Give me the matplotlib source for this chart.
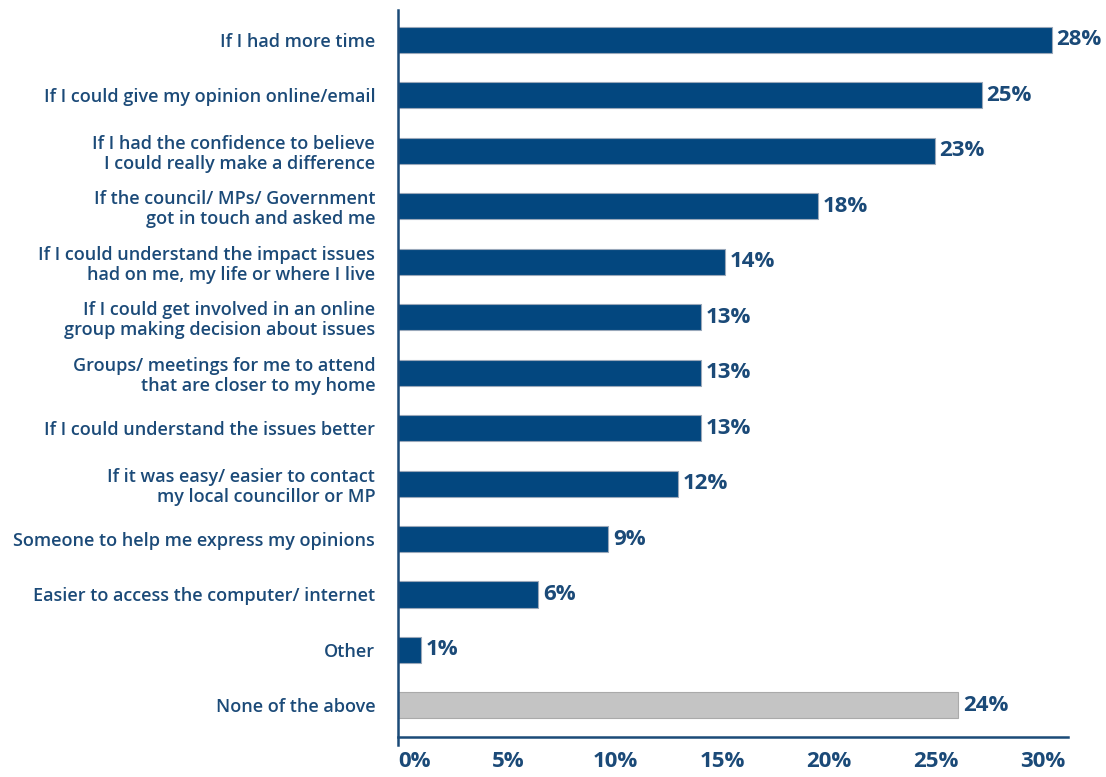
import numpy as np
import matplotlib.pyplot as plt

plt.rcParams['font.family'] = ['Open Sans', 'DejaVu Sans']

# survey answers, top to bottom
answers = [
    "If I had more time",
    "If I could give my opinion online/email",
    "If I had the confidence to believe\nI could really make a difference",
    "If the council/ MPs/ Government\ngot in touch and asked me",
    "If I could understand the impact issues\nhad on me, my life or where I live",
    "If I could get involved in an online\ngroup making decision about issues",
    "Groups/ meetings for me to attend\nthat are closer to my home",
    "If I could understand the issues better",
    "If it was easy/ easier to contact\nmy local councillor or MP",
    "Someone to help me express my opinions",
    "Easier to access the computer/ internet",
    "Other",
    "None of the above",
]
shares = [28, 25, 23, 18, 14, 13, 13, 13, 12, 9, 6, 1, 24]
tick_vals = [0, 5, 10, 15, 20, 25, 30]

navy = '#03477f'
text_col = '#1b4a78'
colors = [navy] * (len(shares) - 1) + ['#c4c4c4']
edges = ['#9aa8ba'] * (len(shares) - 1) + ['#aaaaaa']

fig = plt.figure(figsize=(11.06, 7.77), dpi=100)
ax = fig.add_axes([0.3599, 0.0515, 0.6057, 0.9356])

y = np.arange(len(shares))
ax.barh(y, shares, height=0.47, color=colors, edgecolor=edges, linewidth=0.8)

for yi, v in zip(y, shares):
    ax.text(v + 0.2, yi, f"{v}%", va='center', ha='left', fontsize=16,
            fontweight='bold', color=text_col)

ax.set_ylim(12.57, -0.54)
ax.set_xlim(0, 28.7)
ax.set_yticks(y)
ax.set_yticklabels(answers, fontsize=13, fontweight='semibold', color=text_col,
                   linespacing=1.15)

# axis labels are spread across the full axis length
axis_span = 31.3
tick_pos = [t * 28.7 / axis_span + 0.13 for t in tick_vals]
tick_pos[0] = 0
ax.set_xticks(tick_pos)
ax.set_xticklabels([f"{t}%" for t in tick_vals], fontsize=16, fontweight='bold',
                   color=text_col)
ax.get_xticklabels()[0].set_horizontalalignment('left')
ax.tick_params(axis='both', length=0)
ax.tick_params(axis='y', pad=16.5)
ax.tick_params(axis='x', pad=10)

for side in ['top', 'right']:
    ax.spines[side].set_visible(False)
for side in ['left', 'bottom']:
    ax.spines[side].set_color(text_col)
    ax.spines[side].set_linewidth(1.8)
ax.spines['left'].set_bounds(12.72, -0.54)

fig.savefig('out.png', dpi=100)
